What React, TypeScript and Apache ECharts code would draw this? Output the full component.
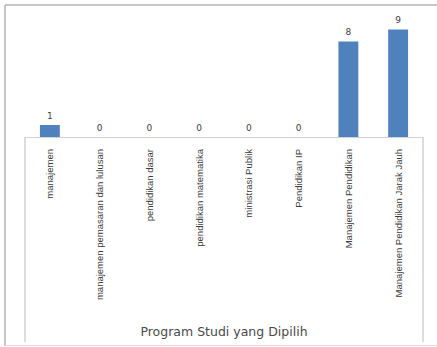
import React, { useEffect, useRef } from "react";
import * as echarts from "echarts";

const categories = [
  "manajemen",
  "manajemen pemasaran dan lulusan",
  "pendidikan dasar",
  "pendidikan matematika",
  "ministrasi Publik",
  "Pendidikan IP",
  "Manajemen Pendidikan",
  "Manajemen Pendidikan Jarak Jauh",
];
const values = [1, 0, 0, 0, 0, 0, 8, 9];
const outerCategory = ["Program Studi yang Dipilih"];

export default function App() {
  const ref = useRef<HTMLDivElement>(null);
  useEffect(() => {
    if (!ref.current) return;
    const chart = echarts.init(ref.current, null, { renderer: "svg" });
    chart.setOption({
      animation: false,
      backgroundColor: "#ffffff",
      grid: { left: 25, width: 398, top: 17.6, height: 119.4 },
      xAxis: [
        {
          type: "category",
          data: categories,
          position: "bottom",
          axisLine: { show: true, lineStyle: { color: "#D0D0D0", width: 1 } },
          axisTick: { show: false },
          axisLabel: {
            rotate: 90,
            interval: 0,
            margin: 12,
            fontFamily: "Liberation Sans",
            fontSize: 9.5,
            color: "#3a3a3a",
          },
        },
        {
          type: "category",
          data: outerCategory,
          position: "bottom",
          axisLine: { show: false },
          axisTick: {
            show: true,
            length: 205,
            lineStyle: { color: "#D0D0D0", width: 1.5 },
          },
          axisLabel: {
            margin: 188,
            fontFamily: "DejaVu Sans",
            fontSize: 12.5,
            color: "#4a4a4a",
          },
        },
      ],
      yAxis: {
        type: "value",
        min: 0,
        max: 10,
        show: false,
        splitLine: { show: false },
      },
      series: [
        {
          type: "bar",
          data: values,
          xAxisIndex: 0,
          barWidth: "40%",
          itemStyle: { color: "#4F81BD" },
          label: {
            show: true,
            position: "top",
            distance: 5,
            fontFamily: "DejaVu Sans",
            fontSize: 9,
            color: "#404040",
          },
        },
      ],
      graphic: [
        { type: "line", shape: { x1: 5, y1: 5, x2: 437, y2: 5 }, style: { stroke: "#C8C8C8", lineWidth: 2 } },
        { type: "line", shape: { x1: 5, y1: 5, x2: 5, y2: 346 }, style: { stroke: "#C8C8C8", lineWidth: 2 } },
        { type: "line", shape: { x1: 5, y1: 345.5, x2: 437, y2: 345.5 }, style: { stroke: "#D8D8D8", lineWidth: 1 } },
      ],
    });
    return () => chart.dispose();
  }, []);
  return (
    <div
      ref={ref}
      style={{ position: "fixed", left: 0, top: 0, width: 437, height: 347 }}
    />
  );
}
